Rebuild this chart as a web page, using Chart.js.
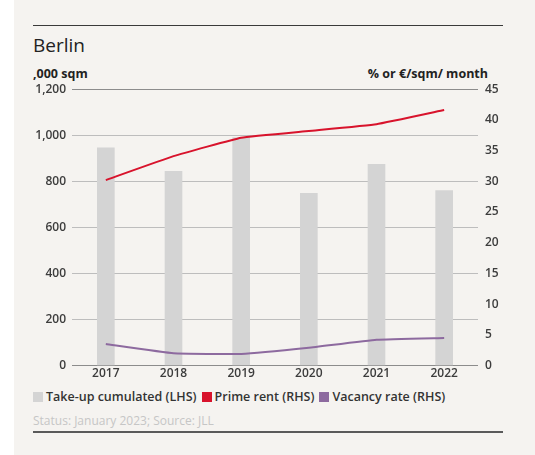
<!DOCTYPE html>
<html>
<head>
<meta charset="utf-8">
<script src="https://cdn.jsdelivr.net/npm/chart.js@4"></script>
<style>
    html, body { margin: 0; padding: 0; background: #fff; }
    .card {
        position: absolute; left: 14px; top: 0; width: 521px; height: 455px;
        background: #f5f3f0;
        font-family: "Open Sans", sans-serif;
    }
    .rule-top { position: absolute; left: 19px; top: 25px; width: 470px; height: 1px; background: #3a3a3a; }
    .rule-bottom { position: absolute; left: 19px; top: 431px; width: 470px; height: 2px; background: #5a5a5a; }
    .title { position: absolute; left: 19px; top: 32px; font-size: 19px; color: #222; }
    .unit { position: absolute; top: 65px; font-size: 12.5px; font-weight: 700; color: #222; }
    .unit.left { left: 19px; }
    .unit.right { right: 47px; }
    .chart-box { position: absolute; left: 6px; top: 75px; width: 500px; height: 307px; }
    .legend { position: absolute; left: 19px; top: 388px; font-size: 12.5px; font-weight: 600; color: #333; white-space: nowrap; }
    .legend span.box { display: inline-block; width: 10px; height: 10px; margin-right: 3px; vertical-align: -1px; }
    .legend span.item { margin-right: 5px; }
    .source { position: absolute; left: 19px; top: 412px; font-size: 12px; color: #c6c6c6; }
</style>
</head>
<body>
<div class="card">
    <div class="rule-top"></div>
    <div class="title">Berlin</div>
    <div class="unit left">,000 sqm</div>
    <div class="unit right">% or €/sqm/ month</div>
    <div class="chart-box"><canvas id="berlinChart"></canvas></div>
    <div class="legend" id="legend"></div>
    <div class="source">Status: January 2023; Source: JLL</div>
    <div class="rule-bottom"></div>
</div>
<script>
    const years = ["2017", "2018", "2019", "2020", "2021", "2022"];
    const takeUp = [945, 843, 990, 748, 874, 760];       // ,000 sqm
    const primeRent = [30.2, 34.1, 37.1, 38.2, 39.3, 41.6]; // €/sqm/month
    const vacancy = [3.5, 2.0, 1.9, 2.9, 4.2, 4.5];      // %

    const leftTicks = [0, 200, 400, 600, 800, 1000, 1200];
    const rightTicks = [0, 5, 10, 15, 20, 25, 30, 35, 40, 45];

    const seriesNames = ["Take-up cumulated (LHS)", "Prime rent (RHS)", "Vacancy rate (RHS)"];
    const colors = ["#d4d4d4", "#d8132c", "#8d6a9f"];

    const tickFont = { family: "Open Sans", size: 12, weight: "600" };
    const tickColor = "#3c3c3c";

    new Chart(document.querySelector("#berlinChart"), {
        data: {
            labels: years,
            datasets: [
                {
                    type: "line",
                    label: seriesNames[1],
                    data: primeRent,
                    yAxisID: "y2",
                    borderColor: colors[1],
                    borderWidth: 2,
                    pointRadius: 0,
                    tension: 0.1,
                    order: 0,
                },
                {
                    type: "line",
                    label: seriesNames[2],
                    data: vacancy,
                    yAxisID: "y2",
                    borderColor: colors[2],
                    borderWidth: 2,
                    pointRadius: 0,
                    tension: 0.1,
                    order: 1,
                },
                {
                    type: "bar",
                    label: seriesNames[0],
                    data: takeUp,
                    yAxisID: "y",
                    backgroundColor: colors[0],
                    barThickness: 17,
                    order: 2,
                },
            ],
        },
        options: {
            responsive: true,
            maintainAspectRatio: false,
            animation: false,
            layout: { padding: { top: 4 } },
            plugins: {
                legend: { display: false },
                tooltip: { enabled: false },
            },
            scales: {
                x: {
                    grid: { display: false, drawTicks: false },
                    border: { display: false },
                    ticks: { font: tickFont, color: tickColor, padding: 1 },
                },
                y: {
                    position: "left",
                    min: 0,
                    max: 1200,
                    afterBuildTicks: (s) => { s.ticks = leftTicks.map((v) => ({ value: v })); },
                    afterFit: (s) => { s.width = 52; },
                    border: { display: false },
                    grid: {
                        drawTicks: false,
                        color: (c) => (c.tick && (c.tick.value === 0 || c.tick.value === 1200) ? "#8c8c8c" : "#bdbdbd"),
                    },
                    ticks: {
                        font: tickFont,
                        color: tickColor,
                        padding: 6,
                        callback: (v) => v.toLocaleString("en-US"),
                    },
                },
                y2: {
                    position: "right",
                    min: 0,
                    max: 45,
                    afterBuildTicks: (s) => { s.ticks = rightTicks.map((v) => ({ value: v })); },
                    afterFit: (s) => { s.width = 42; },
                    border: { display: false },
                    grid: { display: false, drawTicks: false },
                    ticks: { font: tickFont, color: tickColor, padding: 7 },
                },
            },
        },
    });

    // html legend
    const legend = document.querySelector("#legend");
    legend.innerHTML = seriesNames
        .map((n, i) => '<span class="item"><span class="box" style="background:' + colors[i] + '"></span>' + n + "</span>")
        .join("");
</script>
</body>
</html>
